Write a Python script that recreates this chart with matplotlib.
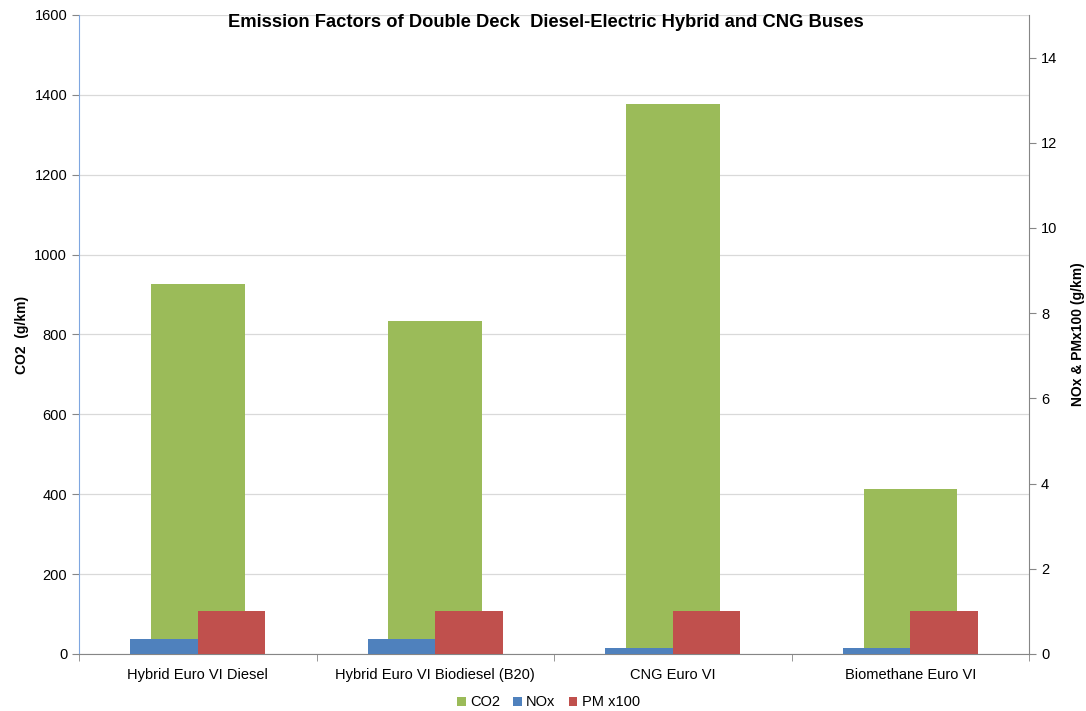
import matplotlib.pyplot as plt
import numpy as np

plt.rcParams["font.family"] = ["Liberation Sans", "DejaVu Sans"]

categories = ["Hybrid Euro VI Diesel", "Hybrid Euro VI Biodiesel (B20)",
              "CNG Euro VI", "Biomethane Euro VI"]
co2 = [926, 833, 1378, 412]
nox = [0.35, 0.35, 0.13, 0.13]
pm_x100 = [1.0, 1.0, 1.0, 1.0]

green, blue, red = "#9BBB59", "#4F81BD", "#C0504D"
axis_grey = "#868686"


def main():
    fig = plt.figure(figsize=(10.86, 7.11), dpi=100)
    ax = fig.add_axes([0.0727, 0.0802, 0.875, 0.8988])
    ax2 = ax.twinx()

    x = np.arange(len(categories))
    w_small = 0.284
    ax.bar(x, co2, width=0.395, color=green, zorder=2, label="CO2")
    ax2.bar(x - w_small / 2, nox, width=w_small, color=blue, label="NOx")
    ax2.bar(x + w_small / 2, pm_x100, width=w_small, color=red, label="PM x100")

    ax.set_xlim(-0.5, len(categories) - 0.5)
    ax.set_ylim(0, 1600)
    ax.set_yticks(range(0, 1601, 200))
    ax2.set_ylim(0, 15)
    ax2.set_yticks(range(0, 15, 2))

    fs = 10.5
    ax.set_xticks(x)
    ax.set_xticklabels(categories, fontsize=fs)
    ax.set_xticks(np.arange(-0.5, len(categories)), minor=True)
    ax.tick_params(axis="x", which="major", length=0, pad=10)
    ax.tick_params(axis="x", which="minor", length=5, color=axis_grey)
    ax.tick_params(axis="y", labelsize=fs, length=5, color=axis_grey)
    ax2.tick_params(axis="y", labelsize=fs, length=5, color=axis_grey)

    ax.grid(axis="y", color="#D9D9D9", linewidth=0.9, zorder=0)
    ax.set_axisbelow(True)

    # secondary bars drawn on top of the CO2 bars
    ax2.set_zorder(ax.get_zorder() + 1)
    ax2.patch.set_visible(False)

    for a in (ax, ax2):
        a.spines["top"].set_visible(False)
    ax.spines["left"].set_color("#7EA6E0")
    ax.spines["right"].set_visible(False)
    ax2.spines["left"].set_visible(False)
    ax2.spines["right"].set_color(axis_grey)
    ax.spines["bottom"].set_color(axis_grey)
    ax2.spines["bottom"].set_visible(False)

    ax.set_ylabel("CO2  (g/km)", fontsize=10, fontweight="bold", labelpad=4)
    ax2.set_ylabel("NOx & PMx100 (g/km)", fontsize=10, fontweight="bold", labelpad=10)

    fig.text(0.503, 0.969, "Emission Factors of Double Deck  Diesel-Electric Hybrid and CNG Buses",
             ha="center", va="center", fontsize=13.2, fontweight="bold")

    handles = ax.get_legend_handles_labels()[0] + ax2.get_legend_handles_labels()[0]
    labels = ["CO2", "NOx", "PM x100"]
    fig.legend(handles, labels, loc="center", bbox_to_anchor=(0.505, 0.012), ncol=3,
               frameon=False, fontsize=fs, handlelength=0.6, handleheight=0.6,
               handletextpad=0.3, columnspacing=0.9)

    fig.savefig("out.png", dpi=100)


if __name__ == "__main__":
    main()
